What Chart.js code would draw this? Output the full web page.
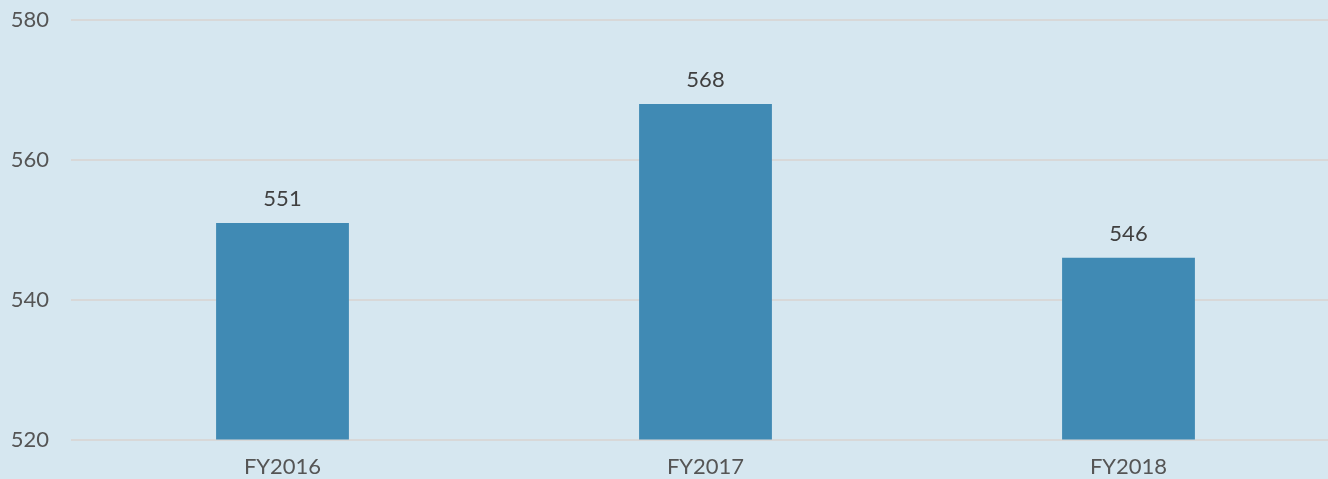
<!DOCTYPE html>
<html>
<head>
<meta charset="utf-8">
<script src="https://cdn.jsdelivr.net/npm/chart.js@4"></script>
<style>
  html, body { margin: 0; padding: 0; background: #d6e7f0; overflow: hidden; }
  #wrap { width: 1340px; height: 494px; margin-top: -15px; position: relative; }
</style>
</head>
<body>
<div id="wrap"><canvas id="barChart"></canvas></div>
<script>
// values
const years = ['FY2016', 'FY2017', 'FY2018'];
const values = [551, 568, 546];
const yTicks = [520, 540, 560, 580];

// draws the number above each bar
const barLabels = {
    id: 'barLabels',
    afterDatasetsDraw(chart) {
        const ctx = chart.ctx;
        const meta = chart.getDatasetMeta(0);
        ctx.save();
        ctx.font = '22px Lato, "Open Sans", sans-serif';
        ctx.fillStyle = '#404040';
        ctx.textAlign = 'center';
        ctx.textBaseline = 'bottom';
        meta.data.forEach(function (bar, i) {
            ctx.fillText(values[i], bar.x, bar.y - 13);
        });
        ctx.restore();
    }
};

var ctx = document.getElementById('barChart');

var barChart = new Chart(ctx, {
    type: 'bar',
    data: {
        labels: years,
        datasets: [{
            data: values,
            backgroundColor: '#408ab4',
            barPercentage: 0.314,
            categoryPercentage: 1
        }]
    },
    options: {
        responsive: true,
        maintainAspectRatio: false,
        animation: false,
        layout: { padding: { top: -4, left: 0, right: 0, bottom: -15 } },
        plugins: {
            legend: { display: false },
            tooltip: { enabled: false }
        },
        scales: {
            x: {
                grid: { display: false, drawTicks: false },
                border: { display: false },
                ticks: {
                    color: '#555555',
                    font: { family: 'Lato, "Open Sans", sans-serif', size: 22 },
                    padding: 14
                }
            },
            y: {
                min: 520,
                max: 580,
                afterBuildTicks: function (axis) {
                    axis.ticks = yTicks.map(function (v) { return { value: v }; });
                },
                afterFit: function (axis) {
                    axis.width = 71;
                },
                grid: { color: '#d8d8d8', lineWidth: 2, drawTicks: false },
                border: { display: false },
                ticks: {
                    color: '#555555',
                    font: { family: 'Lato, "Open Sans", sans-serif', size: 22 },
                    padding: 22
                }
            }
        }
    },
    plugins: [barLabels]
});
</script>
</body>
</html>
